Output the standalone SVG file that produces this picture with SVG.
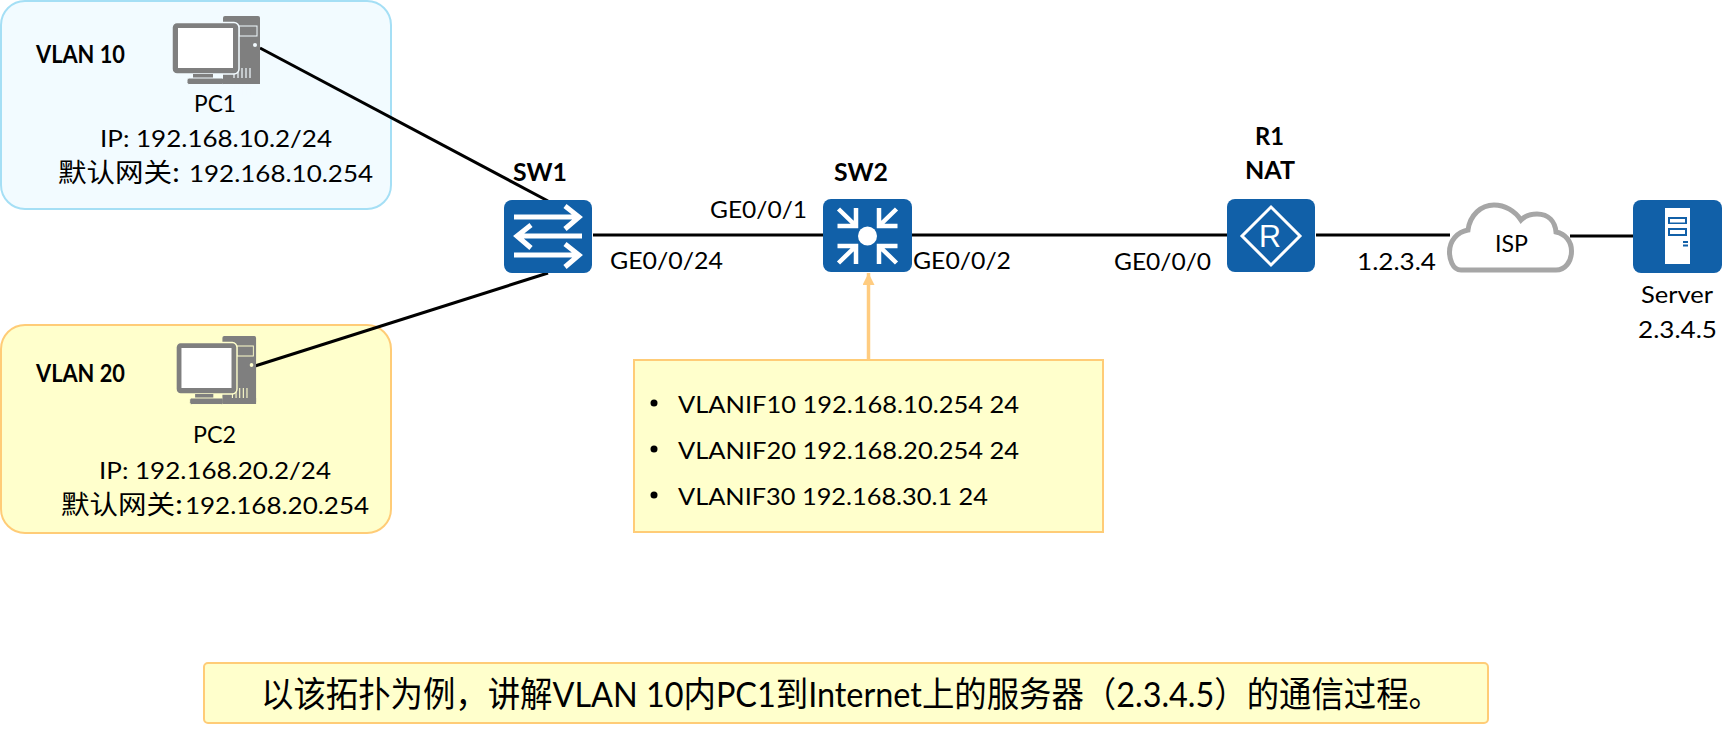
<svg xmlns="http://www.w3.org/2000/svg" width="1736" height="735" viewBox="0 0 1736 735">
<style>
text{font-family:"Lato","Noto Sans CJK SC",sans-serif;font-size:24px;fill:#000}
.b{font-weight:700}
.cjk{font-family:"Noto Sans CJK SC",sans-serif;font-size:26px}
.wire{stroke:#000;stroke-width:3;fill:none}
.blue{fill:#1160a8}
.zone{stroke-width:2}
.w{stroke:#fff;fill:none}
.gray{fill:#7f7f7f}
</style>
<defs>
<marker id="ah" markerUnits="userSpaceOnUse" markerWidth="13" markerHeight="13" refX="12" refY="6" orient="auto"><path d="M0 0L12 6L0 12Z" fill="#ffcc80"/></marker>
<g id="pc">
<rect class="gray" x="51" y="0" width="37" height="68" rx="2"/>
<rect fill="none" stroke="currentColor" stroke-width="1" x="67" y="10" width="18" height="10"/>
<circle cx="83" cy="29" r="2" fill="currentColor"/>
<path d="M62 52v27M66 52v27M70 52v27M74 52v27M78 52v27" stroke="currentColor" stroke-width="1.2"/>
<rect class="gray" stroke="currentColor" stroke-width="1.5" x="0" y="6.500" width="67" height="51.500" rx="5"/>
<rect fill="#fff" x="6" y="12" width="55" height="40"/>
<path class="gray" d="M21 58H41V62H21Z"/>
<rect class="gray" stroke="currentColor" stroke-width="1" x="15" y="62" width="37" height="6.500" rx="2"/>
<path d="M51 62H88V68H51Z" class="gray"/>
</g>
<path id="inw" class="w" stroke-width="4.500" d="M-30 -10H-11.500V-28M-11.500 -10L-29 -27"/>
</defs>

<g id="vlan10">
<rect class="zone" x="1" y="1" width="390" height="208" rx="24" fill="#f2fbff" stroke="#a5dff5"/>
<text class="b" x="36" y="63" textLength="89" lengthAdjust="spacingAndGlyphs">VLAN 10</text>
</g>
<g id="vlan20">
<rect class="zone" x="1" y="325" width="390" height="208" rx="24" fill="#ffffcc" stroke="#ffcc77"/>
<text class="b" x="36" y="382" textLength="89" lengthAdjust="spacingAndGlyphs">VLAN 20</text>
</g>

<g id="connectors">
<path class="wire" d="M260 48L548 201"/>
<path class="wire" d="M255 366L548 273"/>
<path class="wire" d="M593 235H823"/>
<path class="wire" d="M912 235H1227"/>
<path class="wire" d="M1316 235H1450"/>
<path class="wire" d="M1570 236H1633"/>
<path d="M868.500 360V273" stroke="#ffcc80" stroke-width="3.500" fill="none" marker-end="url(#ah)"/>
</g>

<g id="pc1" color="#f2fbff">
<use href="#pc" transform="translate(172 16)"/>
<text x="194" y="112" textLength="42" lengthAdjust="spacingAndGlyphs">PC1</text>
<text x="100" y="147" textLength="232" lengthAdjust="spacingAndGlyphs">IP: 192.168.10.2/24</text>
<text class="cjk" x="58" y="182" textLength="122" lengthAdjust="spacingAndGlyphs">默认网关:</text>
<text x="189" y="182" textLength="184" lengthAdjust="spacingAndGlyphs">192.168.10.254</text>
</g>
<g id="pc2" color="#ffffcc">
<use href="#pc" transform="translate(176 336) scale(.91 1)"/>
<text x="193" y="443" textLength="43" lengthAdjust="spacingAndGlyphs">PC2</text>
<text x="99" y="479" textLength="232" lengthAdjust="spacingAndGlyphs">IP: 192.168.20.2/24</text>
<text class="cjk" x="61" y="514" textLength="122" lengthAdjust="spacingAndGlyphs">默认网关:</text>
<text x="185" y="514" textLength="184" lengthAdjust="spacingAndGlyphs">192.168.20.254</text>
</g>

<g id="sw1">
<rect class="blue" x="504" y="200" width="88" height="73" rx="8"/>
<g class="w" stroke-width="5">
<path d="M514 217H578M565 206L579 217L565 229"/>
<path d="M582 236H518M531 225L517 236L531 248"/>
<path d="M514 255H578M565 244L579 255L565 267"/>
</g>
<text class="b" x="513" y="181" textLength="54" lengthAdjust="spacingAndGlyphs">SW1</text>
<text x="610" y="269" textLength="113" lengthAdjust="spacingAndGlyphs">GE0/0/24</text>
</g>

<g id="sw2">
<rect class="blue" x="823" y="199" width="89" height="73" rx="8"/>
<circle cx="867.500" cy="236" r="9.500" fill="#fff"/>
<use href="#inw" transform="translate(867.500 236)"/>
<use href="#inw" transform="translate(867.500 236) scale(-1 1)"/>
<use href="#inw" transform="translate(867.500 236) scale(1 -1)"/>
<use href="#inw" transform="translate(867.500 236) scale(-1 -1)"/>
<text class="b" x="834" y="181" textLength="54" lengthAdjust="spacingAndGlyphs">SW2</text>
<text x="710" y="218" textLength="97" lengthAdjust="spacingAndGlyphs">GE0/0/1</text>
<text x="913" y="269" textLength="98" lengthAdjust="spacingAndGlyphs">GE0/0/2</text>
</g>

<g id="r1">
<rect class="blue" x="1227" y="199" width="88" height="73" rx="8"/>
<path class="w" stroke-width="3" d="M1271 207L1300 236L1271 265L1242 236Z"/>
<text x="1259" y="247" textLength="22" lengthAdjust="spacingAndGlyphs" style="fill:#fff;font-family:'Liberation Sans',sans-serif;font-size:31px">R</text>
<text class="b" x="1255" y="145" textLength="29" lengthAdjust="spacingAndGlyphs">R1</text>
<text class="b" x="1245" y="179" textLength="50" lengthAdjust="spacingAndGlyphs">NAT</text>
<text x="1114" y="270" textLength="97" lengthAdjust="spacingAndGlyphs">GE0/0/0</text>
<text x="1357" y="270" textLength="79" lengthAdjust="spacingAndGlyphs">1.2.3.4</text>
</g>

<g id="isp">
<path d="M1461 270C1452 270 1449.500 258 1449.500 252C1449.500 241 1457 232 1468 230C1470 215 1481 205 1494 205C1505 205 1515 211 1521 220C1526 215 1532 214 1537 214C1549 214 1555 222 1556 232C1566 234 1571.500 242 1571.500 251C1571.500 262 1565 270 1556 270Z" fill="#fff" stroke="#a6a6a6" stroke-width="5"/>
<text x="1495" y="252" textLength="33" lengthAdjust="spacingAndGlyphs">ISP</text>
</g>

<g id="server">
<rect class="blue" x="1633" y="200" width="89" height="73" rx="8"/>
<rect x="1665" y="208" width="25" height="56" fill="#fff"/>
<path class="blue" d="M1668 217H1687V224H1668ZM1668 228H1687V236H1668ZM1683 241H1688V243H1683ZM1683 244.500H1688V246.500H1683Z"/>
<path d="M1670 219H1685V222.500H1670ZM1670 230H1685V234H1670Z" fill="#fff"/>
<text x="1641" y="303" textLength="72" lengthAdjust="spacingAndGlyphs">Server</text>
<text x="1638" y="338" textLength="79" lengthAdjust="spacingAndGlyphs">2.3.4.5</text>
</g>

<g id="vlanif">
<rect x="634" y="360" width="469" height="172" fill="#ffffcc" stroke="#ffcc77" stroke-width="2"/>
<circle cx="654" cy="403" r="3.500"/>
<circle cx="654" cy="449" r="3.500"/>
<circle cx="654" cy="495" r="3.500"/>
<text x="678" y="413" textLength="341" lengthAdjust="spacingAndGlyphs">VLANIF10 192.168.10.254 24</text>
<text x="678" y="459" textLength="341" lengthAdjust="spacingAndGlyphs">VLANIF20 192.168.20.254 24</text>
<text x="678" y="505" textLength="310" lengthAdjust="spacingAndGlyphs">VLANIF30 192.168.30.1 24</text>
</g>

<g id="caption">
<rect x="204" y="663" width="1284" height="60" rx="4" fill="#ffffcc" stroke="#ffcc77" stroke-width="2"/>
<text x="261" y="707" textLength="1180" lengthAdjust="spacingAndGlyphs" style="font-size:35px">以该拓扑为例，讲解VLAN 10内PC1到Internet上的服务器（2.3.4.5）的通信过程。</text>
</g>
</svg>
